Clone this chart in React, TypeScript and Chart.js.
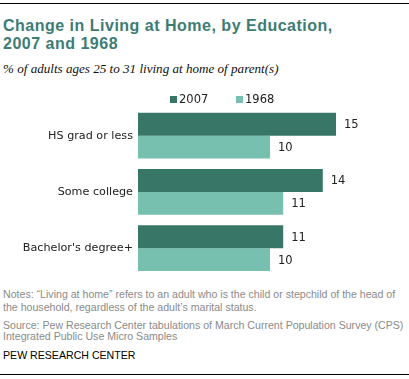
import React, { useEffect, useRef } from "react";
import { Chart, registerables } from "chart.js";

Chart.register(...registerables);

const categories = ["HS grad or less", "Some college", "Bachelor's degree+"];
const series2007 = [15, 14, 11];
const series1968 = [10, 11, 10];
const seriesLabels = ["2007", "1968"];
const colors = ["#387767", "#77bfae"];

const CHART_FONT = "'DejaVu Sans', Verdana, sans-serif";

const legendPlugin = {
  id: "customLegend",
  afterDraw(chart: any) {
    const ctx = chart.ctx;
    ctx.save();
    ctx.font = `11.5px ${CHART_FONT}`;
    ctx.textBaseline = "middle";
    const xs = [170, 236];
    chart.data.datasets.forEach((ds: any, i: number) => {
      ctx.fillStyle = ds.backgroundColor;
      ctx.fillRect(xs[i], 8, 7, 7);
      ctx.fillStyle = "#222";
      ctx.textAlign = "left";
      ctx.fillText(ds.label, xs[i] + 9, 12);
    });
    ctx.restore();
  },
};

const valueLabelPlugin = {
  id: "valueLabels",
  afterDatasetsDraw(chart: any) {
    const ctx = chart.ctx;
    ctx.save();
    ctx.font = `11.5px ${CHART_FONT}`;
    ctx.fillStyle = "#222";
    ctx.textAlign = "left";
    ctx.textBaseline = "middle";
    chart.data.datasets.forEach((ds: any, di: number) => {
      const meta = chart.getDatasetMeta(di);
      meta.data.forEach((el: any, i: number) => {
        ctx.fillText(String(ds.data[i]), el.x + 8, el.y + 1);
      });
    });
    ctx.restore();
  },
};

function BarChart() {
  const ref = useRef<HTMLCanvasElement | null>(null);
  useEffect(() => {
    if (!ref.current) return;
    const chart = new Chart(ref.current, {
      type: "bar",
      data: {
        labels: categories,
        datasets: [
          { label: seriesLabels[0], data: series2007, backgroundColor: colors[0], categoryPercentage: 0.81, barPercentage: 1 },
          { label: seriesLabels[1], data: series1968, backgroundColor: colors[1], categoryPercentage: 0.81, barPercentage: 1 },
        ],
      },
      options: {
        indexAxis: "y",
        animation: false,
        responsive: false,
        events: [],
        layout: { padding: { top: 19.5, bottom: 6.5, left: 0, right: 7 } },
        plugins: { legend: { display: false }, tooltip: { enabled: false } },
        scales: {
          x: { display: false, min: 0, max: 20 },
          y: {
            grid: { display: false, drawTicks: false },
            border: { display: false },
            ticks: { color: "#222", font: { family: CHART_FONT, size: 11.2 }, padding: 5 },
            afterFit(scale: any) {
              scale.width = 138;
            },
          },
        },
      },
      plugins: [legendPlugin, valueLabelPlugin],
    });
    return () => chart.destroy();
  }, []);
  return <canvas ref={ref} width={409} height={200} style={{ position: "absolute", left: 0, top: 88, width: 409, height: 200 }} />;
}

const line = (top: number, extra: React.CSSProperties, text: string) => (
  <div style={{ position: "absolute", left: 3, top, whiteSpace: "nowrap", ...extra }}>{text}</div>
);

export default function App() {
  const titleStyle: React.CSSProperties = {
    fontFamily: "'Liberation Sans', Arial, sans-serif",
    fontWeight: "bold",
    fontSize: 16,
    letterSpacing: "0.5px",
    lineHeight: "18px",
    color: "#3d7c74",
  };
  const noteStyle: React.CSSProperties = {
    fontFamily: "'Liberation Sans', Arial, sans-serif",
    fontSize: 10.6,
    lineHeight: "12px",
    color: "#8a8a8a",
  };
  return (
    <div style={{ position: "fixed", left: 0, top: 0, width: 409, height: 379, background: "#fff", overflow: "hidden" }}>
      <div style={{ position: "absolute", left: 0, top: 3, width: 409, height: 1, background: "#000" }} />
      {line(17, titleStyle, "Change in Living at Home, by Education,")}
      {line(35, titleStyle, "2007 and 1968")}
      {line(62, { fontFamily: "'Liberation Serif', Georgia, serif", fontStyle: "italic", fontSize: 13.1, lineHeight: "14px", color: "#111" }, "% of adults ages 25 to 31 living at home of parent(s)")}
      <BarChart />
      {line(288, noteStyle, "Notes: \u201cLiving at home\u201d refers to an adult who is the child or stepchild of the head of")}
      {line(301, noteStyle, "the household, regardless of the adult\u2019s marital status.")}
      {line(319, noteStyle, "Source: Pew Research Center tabulations of March Current Population Survey (CPS)")}
      {line(330, noteStyle, "Integrated Public Use Micro Samples")}
      {line(349, { ...noteStyle, color: "#000" }, "PEW RESEARCH  CENTER")}
      <div style={{ position: "absolute", left: 0, top: 374, width: 409, height: 1, background: "#000" }} />
    </div>
  );
}
